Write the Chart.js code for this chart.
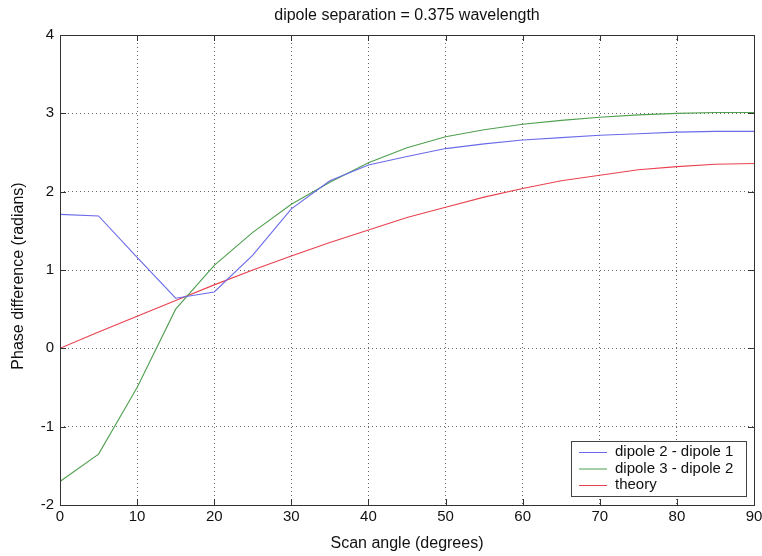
<!DOCTYPE html>
<html>
<head>
<meta charset="utf-8">
<script src="https://cdn.jsdelivr.net/npm/chart.js@4"></script>
<style>
  body { margin: 0; background: #fff; }
  #wrap { width: 762px; height: 556px; }
</style>
</head>
<body>
<div id="wrap"><canvas id="chart" width="762" height="556"></canvas></div>
<script>
// scan angles (degrees)
const angles = [0, 5, 10, 15, 20, 25, 30, 35, 40, 45, 50, 55, 60, 65, 70, 75, 80, 85, 90];
// phase differences (radians)
const dipole21 = [1.71, 1.69, 1.16, 0.64, 0.72, 1.19, 1.78, 2.14, 2.34, 2.45, 2.55, 2.61, 2.66, 2.69, 2.72, 2.74, 2.76, 2.77, 2.77];
const dipole32 = [-1.70, -1.35, -0.50, 0.50, 1.06, 1.48, 1.84, 2.12, 2.37, 2.56, 2.70, 2.79, 2.86, 2.91, 2.95, 2.98, 3.00, 3.01, 3.01];
const theory = [0, 0.21, 0.41, 0.61, 0.81, 1.00, 1.18, 1.35, 1.51, 1.67, 1.80, 1.93, 2.04, 2.14, 2.21, 2.28, 2.32, 2.35, 2.36];
const xTicks = [0, 10, 20, 30, 40, 50, 60, 70, 80, 90];
const yTicks = [-2, -1, 0, 1, 2, 3, 4];

const toPoints = (ys) => angles.map((a, i) => ({ x: a, y: ys[i] }));
const FONT = 'Liberation Sans, Arial, sans-serif';

// matlab-ish frame, titles and legend box
const decor = {
  id: 'decor',
  afterDraw(chart) {
    const { ctx, chartArea: a } = chart;
    ctx.save();
    ctx.strokeStyle = '#333';
    ctx.lineWidth = 1;
    ctx.strokeRect(a.left + 0.5, a.top + 0.5, a.right - a.left, a.bottom - a.top);

    // small inside ticks on all sides
    const xs = chart.scales.x, ys = chart.scales.y;
    ctx.beginPath();
    xTicks.forEach(t => {
      const px = Math.round(xs.getPixelForValue(t)) + 0.5;
      ctx.moveTo(px, a.bottom); ctx.lineTo(px, a.bottom - 6);
      ctx.moveTo(px, a.top); ctx.lineTo(px, a.top + 6);
    });
    yTicks.forEach(t => {
      const py = Math.round(ys.getPixelForValue(t)) + 0.5;
      ctx.moveTo(a.left, py); ctx.lineTo(a.left + 6, py);
      ctx.moveTo(a.right, py); ctx.lineTo(a.right - 6, py);
    });
    ctx.stroke();

    ctx.fillStyle = '#111';
    ctx.font = '16px ' + FONT;
    ctx.textAlign = 'center';
    ctx.textBaseline = 'middle';
    const cx = (a.left + a.right) / 2;
    ctx.fillText('dipole separation = 0.375 wavelength', cx, 16);
    ctx.fillText('Scan angle (degrees)', cx, 544);
    ctx.translate(19, 276);
    ctx.rotate(-Math.PI / 2);
    ctx.fillText('Phase difference (radians)', 0, 0);
    ctx.restore();

    // legend
    ctx.save();
    const bx = 571, by = 441, bw = 175, bh = 55;
    ctx.fillStyle = '#fff';
    ctx.fillRect(bx, by, bw, bh);
    ctx.strokeStyle = '#444';
    ctx.strokeRect(bx + 0.5, by + 0.5, bw, bh);
    ctx.font = '15px ' + FONT;
    ctx.textAlign = 'left';
    ctx.textBaseline = 'middle';
    chart.data.datasets.forEach((ds, i) => {
      const ry = by + 11 + i * 16.5;
      ctx.strokeStyle = ds.borderColor;
      ctx.beginPath();
      ctx.moveTo(bx + 8, ry + 0.5); ctx.lineTo(bx + 36, ry + 0.5);
      ctx.stroke();
      ctx.fillStyle = '#111';
      ctx.fillText(ds.label, bx + 44, ry);
    });
    ctx.restore();
  }
};

new Chart(document.getElementById('chart'), {
  type: 'line',
  data: {
    datasets: [
      { label: 'dipole 2 - dipole 1', data: toPoints(dipole21), borderColor: '#6a6aea' },
      { label: 'dipole 3 - dipole 2', data: toPoints(dipole32), borderColor: '#4f9f4f' },
      { label: 'theory', data: toPoints(theory), borderColor: '#e8424f' }
    ]
  },
  options: {
    responsive: false,
    animation: false,
    elements: {
      line: { borderWidth: 1.1, tension: 0 },
      point: { radius: 0 }
    },
    layout: { padding: { top: 35, right: 8, left: 0, bottom: 0 } },
    plugins: {
      legend: { display: false },
      title: { display: false },
      tooltip: { enabled: false }
    },
    scales: {
      x: {
        type: 'linear',
        min: 0,
        max: 90,
        afterFit: (s) => { s.height = 51; s.paddingLeft = 0; s.paddingRight = 0; },
        afterBuildTicks: (s) => { s.ticks = xTicks.map(v => ({ value: v })); },
        grid: { color: '#666', drawTicks: false },
        border: { display: false, dash: [1, 3] },
        ticks: { color: '#111', font: { size: 15, family: FONT }, padding: 3, maxRotation: 0 }
      },
      y: {
        min: -2,
        max: 4,
        afterFit: (s) => { s.width = 60; s.paddingTop = 0; s.paddingBottom = 0; },
        afterBuildTicks: (s) => { s.ticks = yTicks.map(v => ({ value: v })); },
        grid: { color: '#666', drawTicks: false },
        border: { display: false, dash: [1, 3] },
        ticks: { color: '#111', font: { size: 15, family: FONT }, padding: 6 }
      }
    }
  },
  plugins: [decor]
});
</script>
</body>
</html>
